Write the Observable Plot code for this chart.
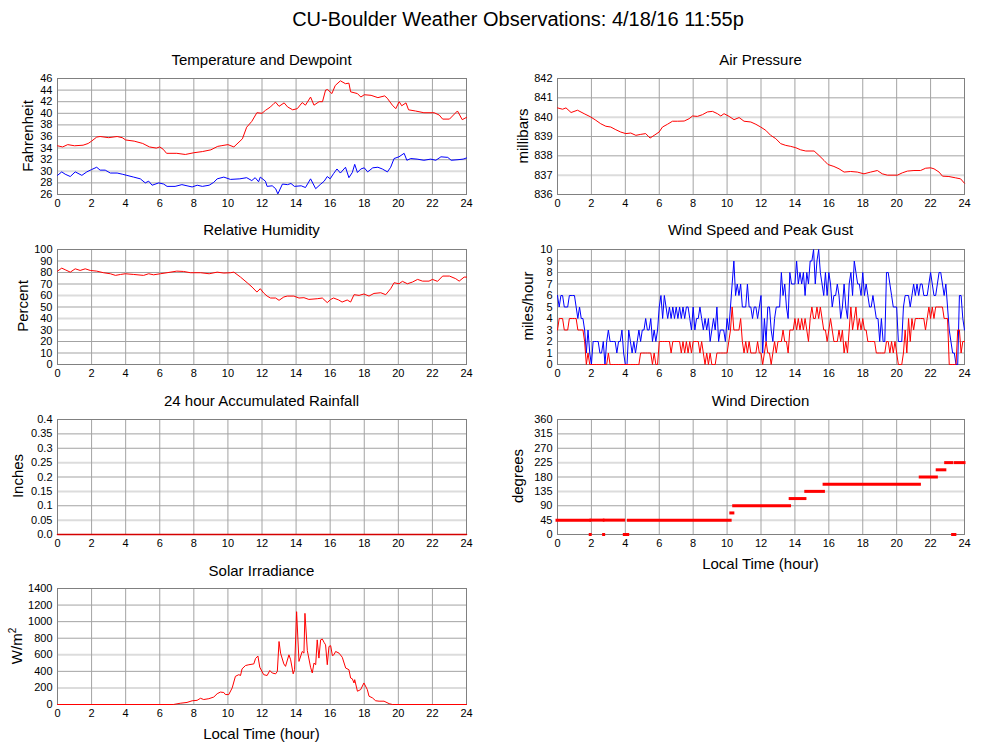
<!DOCTYPE html>
<html><head><meta charset="utf-8">
<script src="https://cdn.jsdelivr.net/npm/d3@7"></script>
<script src="https://cdn.jsdelivr.net/npm/@observablehq/plot@0.6"></script>
<style>
html,body{margin:0;padding:0;background:#fff;}
#page{position:relative;width:999px;height:744px;overflow:hidden;font-family:"Liberation Sans",Arial,sans-serif;color:#000;background:#fff;}
#page svg{position:absolute;}
.t{position:absolute;white-space:nowrap;transform:translateX(-50%);}
.main{font-size:20px;line-height:20px;}
.pt{font-size:15px;line-height:15px;}
.xl{font-size:15px;line-height:15px;}
.yl{position:absolute;white-space:nowrap;font-size:15px;line-height:15px;transform:translate(-50%,-50%) rotate(-90deg);}
.yl sup{font-size:10px;line-height:0;}
</style></head>
<body><div id="page"></div>
<script>
// ---------------- data ----------------
const hourTicks = [0,2,4,6,8,10,12,14,16,18,20,22,24];

// Temperature and dewpoint (deg F)
const tempHour = [0,0.3,0.6,1.0,1.5,1.8,2.0,2.3,2.5,3.0,3.5,3.8,4.0,4.5,5.0,5.4,5.8,6.0,6.2,6.4,7.0,7.5,8.0,8.5,9.0,9.4,9.6,10.0,10.35,10.85,11.1,11.4,11.7,12.0,12.2,12.5,12.7,12.8,13.0,13.3,13.5,13.8,14.07,14.36,14.55,14.85,15.05,15.35,15.55,15.73,15.85,16.1,16.3,16.6,16.9,17.1,17.2,17.6,17.8,18.0,18.4,18.8,19.2,19.35,19.65,19.85,20.05,20.2,20.45,20.6,21.0,21.5,22.1,22.4,22.6,23.0,23.47,23.75,24];
const tempF = [34.4,34.2,34.6,34.4,34.5,34.8,35.2,35.9,36.0,35.8,36.0,35.8,35.4,35.2,34.8,34.2,34.0,34.2,33.8,33.1,33.1,32.9,33.2,33.4,33.7,34.3,34.4,34.6,34.2,35.6,37.6,38.6,40.1,40.0,40.5,41.1,41.7,41.9,41.2,41.8,41.1,40.6,40.8,41.85,41.4,42.8,41.4,42.0,42.0,44.0,44.1,43.4,44.8,45.6,45.1,45.2,43.7,43.4,42.8,43.2,43.1,42.7,43.0,42.6,41.4,40.8,42.0,41.3,41.8,40.6,40.4,40.1,40.1,39.7,39.0,39.0,40.4,38.9,39.3];
const dewHour = [0,0.25,0.45,0.75,1.04,1.43,1.72,2.0,2.3,2.5,2.8,3.1,3.5,3.8,4.07,4.47,4.86,5.15,5.35,5.55,5.94,6.23,6.43,6.9,7.3,7.6,7.9,8.2,8.5,8.9,9.17,9.37,9.76,10.15,10.7,11.1,11.4,11.6,11.8,11.9,12.2,12.3,12.6,12.8,12.93,13.2,13.5,13.7,13.9,14.3,14.55,14.85,15.15,15.45,15.65,15.83,16.0,16.2,16.4,16.6,16.9,17.1,17.3,17.44,17.6,17.8,18.0,18.2,18.5,18.8,19.06,19.36,19.55,19.75,20.04,20.34,20.5,20.73,21.1,21.5,21.9,22.2,22.5,22.9,23.1,23.5,23.8,24];
const dewF = [29.3,29.9,29.5,29.1,29.9,29.3,29.9,30.3,30.7,30.2,30.2,29.7,29.7,29.5,29.3,29.0,28.7,28.0,28.3,27.6,28.0,27.8,27.4,27.4,27.7,27.5,27.3,27.6,27.4,27.6,28.1,28.7,29.0,28.6,28.7,28.9,28.4,28.9,28.2,29.0,28.3,27.4,27.5,27.0,26.1,27.8,27.7,27.9,27.4,27.5,27.2,28.7,27.0,27.8,28.3,29.1,28.7,29.6,30.4,29.7,30.7,28.9,29.8,31.2,29.8,30.4,30.6,29.9,30.6,30.7,30.4,29.9,30.7,32.2,32.5,33.1,31.9,32.2,32.1,31.9,32.1,31.9,32.5,32.4,31.9,32.0,32.1,32.3];
const tempTicks = [26,28,30,32,34,36,38,40,42,44,46];

// Air pressure (millibars)
const pressHour = [0,0.3,0.5,0.8,1.18,1.57,1.96,2.26,2.55,2.85,3.14,3.44,3.73,4.03,4.32,4.62,4.91,5.2,5.46,5.7,5.99,6.19,6.48,6.78,7.07,7.47,7.76,7.96,8.25,8.55,8.84,9.14,9.43,9.63,9.82,10.12,10.41,10.71,11.0,11.4,11.7,11.98,12.28,12.57,12.87,13.16,13.46,13.75,14.05,14.34,14.64,15.13,15.42,15.72,15.95,16.3,16.6,16.9,17.29,17.68,18.07,18.47,18.86,19.15,19.45,20.04,20.33,20.63,21.02,21.41,21.71,22.0,22.2,22.5,22.7,23.08,23.48,23.77,24];
const pressMb = [840.48,840.41,840.48,840.24,840.36,840.18,840.01,839.84,839.66,839.53,839.49,839.35,839.23,839.15,839.18,839.06,839.11,839.15,838.92,839.06,839.23,839.49,839.63,839.79,839.79,839.80,839.92,840.06,840.04,840.13,840.27,840.30,840.18,840.06,840.18,840.04,839.87,839.98,839.79,839.75,839.63,839.49,839.32,839.06,838.89,838.63,838.54,838.49,838.42,838.31,838.25,838.25,838.02,837.76,837.55,837.45,837.33,837.16,837.19,837.16,837.07,837.16,837.24,837.07,837.00,837.00,837.12,837.21,837.24,837.24,837.36,837.38,837.33,837.16,836.95,836.93,836.86,836.81,836.58];
const pressTicks = [836,837,838,839,840,841,842];

// Relative humidity (%)
const rhHour = [0,0.25,0.45,0.75,1.04,1.33,1.63,1.92,2.3,2.7,3.1,3.4,3.7,3.98,4.47,5.05,5.35,5.64,6.03,6.43,7.0,7.4,7.8,8.4,8.9,9.37,9.76,10.15,10.35,10.74,11.13,11.42,11.7,11.9,12.1,12.3,12.5,12.8,13.0,13.28,13.48,13.87,14.17,14.46,14.75,15.24,15.54,15.83,16.03,16.2,16.5,16.7,17.0,17.2,17.4,17.7,17.98,18.28,18.57,18.97,19.26,19.55,19.75,20.04,20.24,20.53,20.83,21.13,21.42,21.8,22.0,22.3,22.6,23.0,23.37,23.57,23.86,24];
const rhPct = [81.2,83.8,82.4,80.3,83.2,81.8,83.2,81.8,81.2,79.8,78.9,77.5,78.3,78.9,78.3,77.5,78.9,78.0,78.9,79.8,81.2,80.9,79.8,79.8,78.9,80.3,79.5,79.8,80.3,76.0,71.1,67.3,63.0,65.9,62.1,59.5,57.8,57.8,55.8,58.7,59.5,59.5,57.8,58.1,56.6,57.2,57.8,53.8,56.6,57.8,56.1,54.3,56.1,54.3,60.7,60.1,61.3,59.5,61.8,62.4,60.7,65.9,71.1,70.2,72.3,70.2,71.7,74.0,72.5,72.5,74.0,72.3,76.9,76.9,74.6,72.5,76.0,76.0];
const rhTicks = [0,10,20,30,40,50,60,70,80,90,100];

// Wind speed and peak gust (mph), one reading every 0.1 hour from 0 to 24
const windStepHours = 0.1;
const windGust = [
 6,5,6,6,5,5,5,6,6,6, 6,5,4,5,4,4,3,1,3,1, 0,2,2,2,2,1,1,2,0,2, 3,2,2,2,2,1,2,2,3,1,
 0,0,3,2,1,2,1,2,3,2, 3,3,4,3,3,4,2,3,2,3, 5,6,4,6,5,4,5,4,5,4, 5,4,5,4,5,4,5,5,4,3,
 5,3,4,4,5,4,3,4,3,4, 2,3,4,3,5,2,3,3,3,2, 4,3,5,7,9,6,7,6,7,5, 5,5,7,5,5,4,5,5,4,5,
 6,1,4,2,5,5,3,2,4,5, 5,5,8,6,7,5,4,8,7,7, 7,9,7,8,7,8,6,8,7,9, 9,10,7,9,10,8,7,6,8,6,
 8,7,5,6,6,7,6,4,5,7, 5,4,7,8,6,9,8,7,7,6, 8,6,7,6,5,5,6,5,4,4, 2,4,2,2,8,8,7,6,5,5,
 5,2,2,2,5,6,6,6,5,6, 7,6,7,6,7,7,6,6,6,7, 8,7,6,6,7,8,8,7,6,7, 5,3,2,1,1,0,0,6,6,4,
 3];
const windSpeed = [
 3,4,4,4,3,3,3,4,4,4, 4,4,3,3,3,3,2,0,1,0, 0,0,0,0,0,0,0,0,0,0, 1,0,0,0,0,0,0,0,0,0,
 0,0,0,0,0,0,0,0,0,1, 1,1,1,1,1,1,0,1,0,0, 2,2,2,2,2,2,2,1,2,2, 2,2,2,1,2,1,2,1,2,1,
 2,2,2,2,1,2,1,0,1,0, 1,0,0,0,1,1,1,1,1,1, 1,2,3,5,3,3,3,3,4,2, 1,2,1,2,1,1,1,1,2,1,
 1,0,1,2,1,1,0,1,2,1, 2,2,2,3,2,2,1,3,3,3, 4,3,4,3,4,3,4,3,2,4, 5,4,4,5,4,5,4,3,3,2,
 3,4,3,2,2,2,3,2,3,1, 2,1,3,5,3,4,5,3,4,3, 4,3,3,2,2,2,2,2,1,1, 1,1,1,1,2,2,1,2,1,2,
 1,0,0,0,1,3,1,4,2,4, 3,4,4,4,4,4,4,3,4,5, 4,5,4,5,5,5,5,5,4,4, 4,0,0,0,0,0,3,3,1,2,
 2];
const windTicks = [0,1,2,3,4,5,6,7,8,9,10];

// 24 hour accumulated rainfall (inches)
const rainHour = [0,24];
const rainInches = [0,0];
const rainTicks = [0,0.05,0.1,0.15,0.2,0.25,0.3,0.35,0.4];
const rainTickLabels = ["0.0","0.05","0.1","0.15","0.2","0.25","0.3","0.35","0.4"];

// Wind direction (degrees): runs of constant reported direction
const dirStart = [0,1.96,2.0,2.75,2.79,3.97,4.21,10.25,10.42,13.75,14.67,15.75,21.42,22.42,22.92,23.33,23.5];
const dirEnd   = [1.92,1.96,2.71,2.75,3.93,4.17,10.21,10.37,13.71,14.62,15.71,21.37,22.37,22.87,23.29,23.46,24];
const dirDeg   = [45,0,45,0,45,0,45,67.5,90,112.5,135,157.5,180,202.5,225,0,225];
const dirTicks = [0,45,90,135,180,225,270,315,360];

// Solar irradiance (W/m^2)
const solarHour = [0,6.8,7.2,7.6,7.9,8.19,8.39,8.58,8.88,9.17,9.37,9.56,9.76,9.85,10.05,10.25,10.44,10.64,10.74,10.83,11.03,11.23,11.52,11.62,11.76,11.87,12.1,12.3,12.46,12.6,12.8,12.9,13.0,13.09,13.28,13.38,13.58,13.68,13.83,13.91,14.03,14.17,14.36,14.46,14.52,14.66,14.85,14.95,15.05,15.15,15.24,15.34,15.44,15.54,15.64,15.73,15.83,15.93,16.03,16.13,16.22,16.32,16.52,16.71,16.91,17.1,17.2,17.3,17.4,17.44,17.6,17.79,17.98,18.18,18.28,18.48,18.67,18.87,19.16,19.46,19.65,24];
const solarW = [0,0,15,25,45,50,75,60,70,90,130,150,145,120,120,200,340,360,350,430,470,480,490,555,585,450,360,350,410,380,370,400,760,620,490,460,600,540,370,420,1120,520,640,620,1100,650,450,380,500,480,780,560,780,790,750,720,480,700,710,590,600,640,620,570,440,420,320,310,260,300,160,180,260,180,100,80,45,40,40,10,0,0];
const solarTicks = [0,200,400,600,800,1000,1200,1400];

// ---------------- drawing ----------------
const page = document.getElementById("page");
const FONT = '"Liberation Sans", Arial, sans-serif';
const GRID = "#a3a3a3", LIGHT = "#dcdcdc", FRAME = "#808080";

function panel(g, y, marks) {
  const mL = 57, mR = 20, mT = 6, mB = 24;
  const w = (g.x1 - g.x0) + mL + mR, h = (g.y1 - g.y0) + mT + mB;
  const inner = y.ticks.filter(v => v !== y.ticks[0] && v !== y.ticks[y.ticks.length - 1]);
  const dark = inner.filter(v => !y.light.includes(v));
  const svg = Plot.plot({
    width: w, height: h,
    marginLeft: mL, marginRight: mR, marginTop: mT, marginBottom: mB,
    style: {fontFamily: FONT, fontSize: "11px", color: "#000", background: "transparent"},
    x: {domain: [0, 24], ticks: hourTicks, tickSize: 0, tickPadding: 5, label: null, tickFormat: d => String(d)},
    y: {domain: [y.ticks[0], y.ticks[y.ticks.length - 1]], ticks: y.ticks, tickSize: 0, tickPadding: 5, label: null,
        tickFormat: y.format || (d => String(d))},
    marks: [
      Plot.ruleY(dark, {stroke: GRID, strokeWidth: 1}),
      Plot.ruleY(y.light, {stroke: LIGHT, strokeWidth: 2}),
      Plot.ruleX(hourTicks.slice(1, -1), {stroke: GRID, strokeWidth: 1}),
      Plot.frame({stroke: FRAME}),
      ...marks
    ]
  });
  svg.style.left = (g.x0 - mL) + "px";
  svg.style.top = (g.y0 - mT) + "px";
  page.appendChild(svg);
}

function text(cls, html, x, baseline, size) {
  const d = document.createElement("div");
  d.className = "t " + cls;
  d.innerHTML = html;
  d.style.left = x + "px";
  d.style.top = (baseline - size * 0.83) + "px";
  page.appendChild(d);
}
function ylabel(html, cx, cy) {
  const d = document.createElement("div");
  d.className = "yl";
  d.innerHTML = html;
  d.style.left = cx + "px";
  d.style.top = cy + "px";
  page.appendChild(d);
}

const windHour = windGust.map((_, i) => +(i * windStepHours).toFixed(2));

const L = {x0: 57, x1: 466}, R = {x0: 557, x1: 964};
const row = [{y0: 78, y1: 194}, {y0: 249, y1: 364}, {y0: 419, y1: 534}, {y0: 588, y1: 704}];

// Temperature and Dewpoint
panel({...L, ...row[0]}, {ticks: tempTicks, light: [30, 34]}, [
  Plot.line(tempF, {x: tempHour, y: tempF, stroke: "#ff0000", strokeWidth: 1}),
  Plot.line(dewF, {x: dewHour, y: dewF, stroke: "#0000ff", strokeWidth: 1})
]);
// Air Pressure
panel({...R, ...row[0]}, {ticks: pressTicks, light: [837, 840]}, [
  Plot.line(pressMb, {x: pressHour, y: pressMb, stroke: "#ff0000", strokeWidth: 1})
]);
// Relative Humidity
panel({...L, ...row[1]}, {ticks: rhTicks, light: [40, 60]}, [
  Plot.line(rhPct, {x: rhHour, y: rhPct, stroke: "#ff0000", strokeWidth: 1})
]);
// Wind Speed and Peak Gust
panel({...R, ...row[1]}, {ticks: windTicks, light: [4, 6]}, [
  Plot.line(windGust, {x: windHour, y: windGust, stroke: "#0000ff", strokeWidth: 1}),
  Plot.line(windSpeed, {x: windHour, y: windSpeed, stroke: "#ff0000", strokeWidth: 1})
]);
// Rainfall
panel({...L, ...row[2]}, {ticks: rainTicks, light: [0.05, 0.15, 0.25],
  format: d => rainTickLabels[rainTicks.indexOf(d)]}, [
  Plot.line(rainInches, {x: rainHour, y: rainInches, stroke: "#d40000", strokeWidth: 1.5})
]);
// Wind Direction
panel({...R, ...row[2]}, {ticks: dirTicks, light: [45, 135, 225]}, [
  Plot.ruleY(dirDeg, {x1: dirStart, x2: dirEnd, y: dirDeg, stroke: "#ff0000", strokeWidth: 3, strokeLinecap: "square"})
]);
// Solar Irradiance
panel({...L, ...row[3]}, {ticks: solarTicks, light: [200, 600]}, [
  Plot.line(solarW, {x: solarHour, y: solarW, stroke: "#ff0000", strokeWidth: 1})
]);

// Titles and labels
text("main", "CU-Boulder Weather Observations: 4/18/16 11:55p", 518, 26, 20);
text("pt", "Temperature and Dewpoint", 261.5, 64, 15);
text("pt", "Air Pressure", 760.5, 64, 15);
text("pt", "Relative Humidity", 261.5, 234, 15);
text("pt", "Wind Speed and Peak Gust", 760.5, 234, 15);
text("pt", "24 hour Accumulated Rainfall", 261.5, 405, 15);
text("pt", "Wind Direction", 760.5, 405, 15);
text("pt", "Solar Irradiance", 261.5, 575, 15);
text("xl", "Local Time (hour)", 760.5, 568, 15);
text("xl", "Local Time (hour)", 261.5, 738, 15);
ylabel("Fahrenheit", 27, 136);
ylabel("millibars", 522, 136);
ylabel("Percent", 22, 306);
ylabel("miles/hour", 527, 306);
ylabel("Inches", 17, 476);
ylabel("degrees", 517, 476);
ylabel("W/m<sup>2</sup>", 16, 646);
</script></body></html>
